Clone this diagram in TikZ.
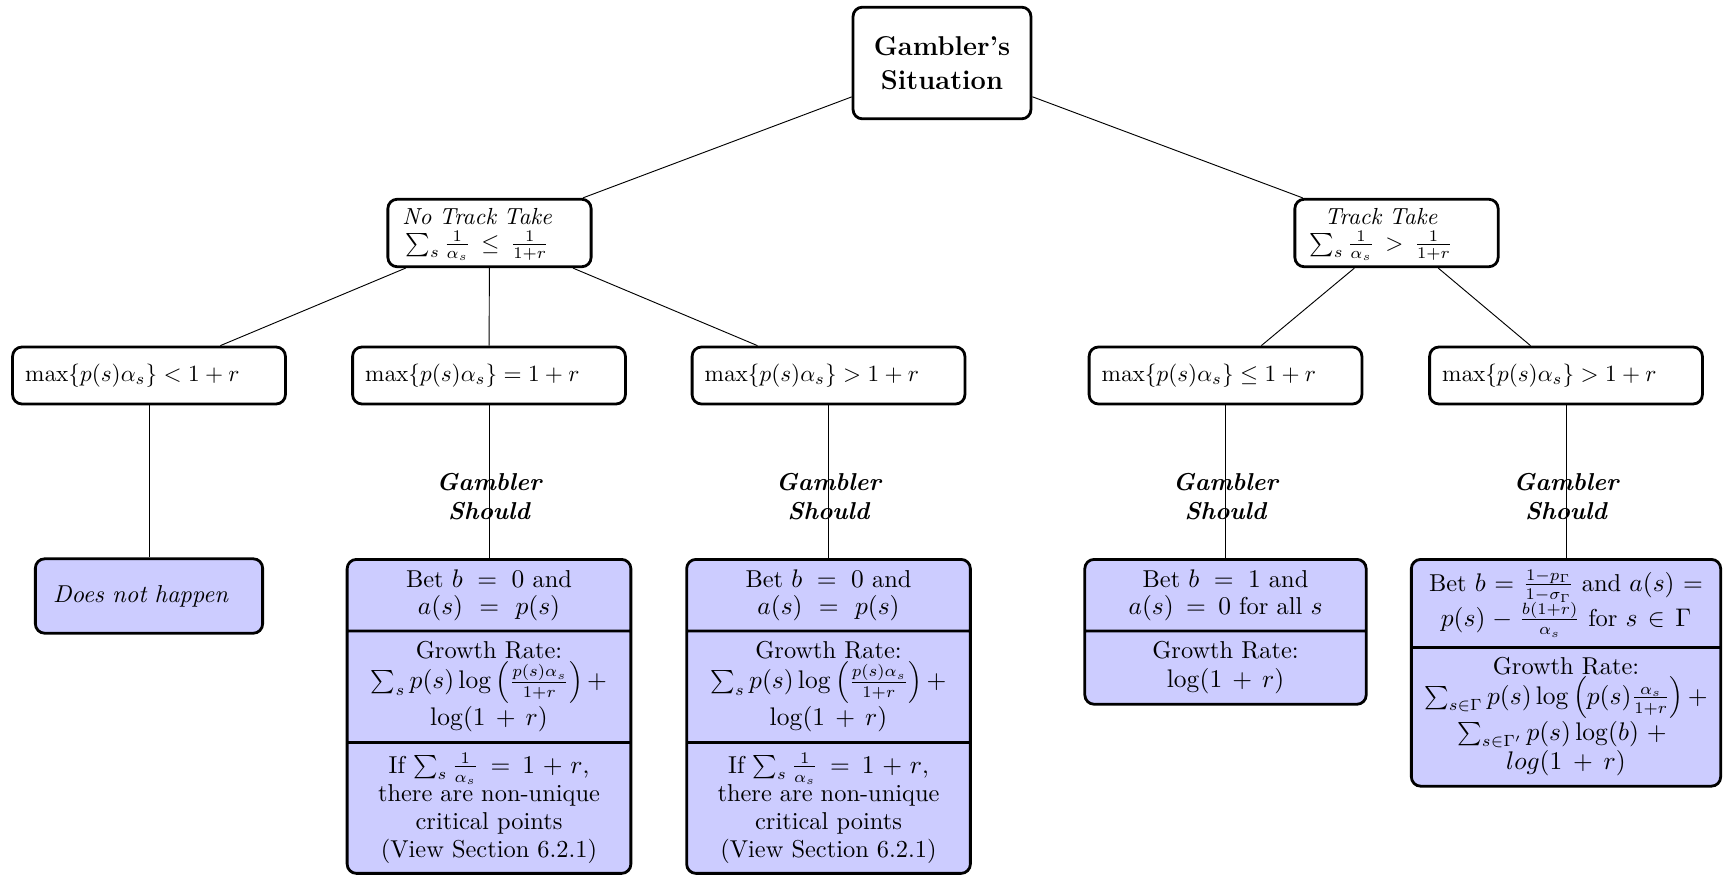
\documentclass[tikz,border=0pt]{standalone}
\usetikzlibrary{shapes.multipart}
\begin{document}
\begin{tikzpicture}[x=0.43pt,y=-0.43pt,
  box/.style={draw, line width=1.2pt, rounded corners=4pt},
  rootbox/.style={box, minimum width=76.5pt, minimum height=48pt, align=center, inner sep=0pt, font=\fontsize{11.7pt}{14.5pt}\selectfont\bfseries},
  lvlone/.style={box, text width=75pt, align=left, inner xsep=6.2pt, inner ysep=0pt, minimum height=29pt},
  lvltwo/.style={box, text width=106.5pt, align=left, inner xsep=5.4pt, inner ysep=0pt, minimum height=24.5pt, font=\fontsize{9.8pt}{12pt}\selectfont},
  nobox/.style={box, fill=blue!20, text width=82.5pt, align=left, inner xsep=7.6pt, inner ysep=0pt, minimum height=32pt, font=\fontsize{10.5pt}{12.6pt}\selectfont\itshape},
  leafbox/.style={box, fill=blue!20, rectangle split, rectangle split parts=#1, align=center, inner xsep=3pt, inner ysep=3.8pt, anchor=north, font=\fontsize{10.5pt}{12.6pt}\selectfont},
  lbl/.style={align=center, font=\fontsize{10.5pt}{12.6pt}\selectfont\bfseries\itshape, inner sep=0pt},
  conn/.style={line width=0.4pt}
]
\useasboundingbox (0,0) rectangle (1729,874);

\node[rootbox] (root) at (942,63) {Gambler's\\Situation};

\node[lvlone] (nt) at (489.5,233) {\begin{tabular}{@{}c@{}}\textit{No Track Take}\\[-1pt] $\sum_s \frac{1}{\alpha_s}\mskip3.5mu\leq\mskip3.5mu\frac{1}{1+r}$\end{tabular}};
\node[lvlone] (tt) at (1396.5,233) {\begin{tabular}{@{}c@{}}\textit{Track Take}\\[-1pt] $\sum_s \frac{1}{\alpha_s}\mskip3.5mu>\mskip3.5mu\frac{1}{1+r}$\end{tabular}};

\node[lvltwo] (b1) at (149,375.5) {$\max\{p(s)\alpha_s\}<1+r$};
\node[lvltwo] (b2) at (489,375.5) {$\max\{p(s)\alpha_s\}=1+r$};
\node[lvltwo] (b3) at (828.5,375.5) {$\max\{p(s)\alpha_s\}>1+r$};
\node[lvltwo] (b4) at (1225.5,375.5) {$\max\{p(s)\alpha_s\}\leq1+r$};
\node[lvltwo] (b5) at (1566,375.5) {$\max\{p(s)\alpha_s\}>1+r$};

\node[nobox] (d) at (149,596) {Does not happen};

\node[leafbox=3, text width=116pt] (l2) at (489,558) {Bet $b = 0$ and\\[-1pt] $a(s) = p(s)$
  \nodepart{two} Growth Rate:\\[0.5pt] $\sum_s p(s)\log\left(\frac{p(s)\alpha_s}{1+r}\right)+$\\[0.5pt] $\log(1 + r)$
  \nodepart{three} If $\sum_s\frac{1}{\alpha_s} = 1+r$,\\[-0.6pt] there are non-unique\\[-0.6pt] critical points\\[-0.6pt] (View Section 6.2.1)};
\node[leafbox=3, text width=116pt] (l3) at (828.5,558) {Bet $b = 0$ and\\[-1pt] $a(s) = p(s)$
  \nodepart{two} Growth Rate:\\[0.5pt] $\sum_s p(s)\log\left(\frac{p(s)\alpha_s}{1+r}\right)+$\\[0.5pt] $\log(1 + r)$
  \nodepart{three} If $\sum_s\frac{1}{\alpha_s} = 1+r$,\\[-0.6pt] there are non-unique\\[-0.6pt] critical points\\[-0.6pt] (View Section 6.2.1)};
\node[leafbox=2, text width=115pt] (l4) at (1225.5,558) {Bet $b = 1$ and\\[-1pt] $a(s) = 0$ for all $s$
  \nodepart{two} Growth Rate:\\ $\log(1 + r)$};
\node[leafbox=2, text width=127pt] (l5) at (1566,558) {Bet $b=\frac{1-p_\Gamma}{1-\sigma_\Gamma}$ and $a(s)=$\\[-1pt] $p(s)-\frac{b(1+r)}{\alpha_s}$ for $s\in\Gamma$
  \nodepart{two} Growth Rate:\\ $\sum_{s\in\Gamma}p(s)\log\left(p(s)\frac{\alpha_s}{1+r}\right)+$\\ $\sum_{s\in\Gamma'}p(s)\log(b) +{}$\\ $log(1 + r)$};

\draw[conn] (root) -- (nt);
\draw[conn] (root) -- (tt);
\draw[conn] (nt) -- (b1);
\draw[conn] (nt) -- (b2);
\draw[conn] (nt) -- (b3);
\draw[conn] (tt) -- (b4);
\draw[conn] (tt) -- (b5);
\draw[conn] (b1.south) -- (d.north);
\draw[conn] (b2.south) -- node[lbl, pos=0.6] {Gambler\\Should} (l2.north);
\draw[conn] (b3.south) -- node[lbl, pos=0.6] {Gambler\\Should} (l3.north);
\draw[conn] (b4.south) -- node[lbl, pos=0.6] {Gambler\\Should} (l4.north);
\draw[conn] (b5.south) -- node[lbl, pos=0.6] {Gambler\\Should} (l5.north);
\end{tikzpicture}
\end{document}
